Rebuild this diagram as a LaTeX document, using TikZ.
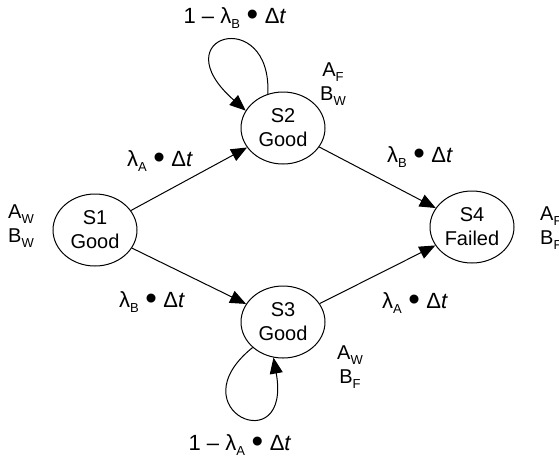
\documentclass[tikz,border=0pt]{standalone}
\usepackage{fontspec}
\setmainfont{Liberation Sans}
\usetikzlibrary{arrows.meta,shapes.geometric}
\newcommand\lsub[1]{\raisebox{-0.45ex}{\fontsize{13}{13}\selectfont #1}}
\newcommand\bigbul{\raisebox{-0.22ex}{\scalebox{1.5}{•}}}
\newcommand\lbl[1]{λ\lsub{#1}\hspace{0.3em}\bigbul\hspace{0.3em}Δ\textit{t}}
\begin{document}
\begin{tikzpicture}[x=1pt,y=-1pt,
  every node/.style={font=\fontsize{20}{24}\selectfont},
  state/.style={draw,ellipse,line width=1pt,minimum width=84pt,minimum height=72pt,inner sep=0pt,align=center},
  tag/.style={align=center,inner sep=0pt},
  elabel/.style={inner sep=0pt,font=\fontsize{22}{24}\selectfont},
  arr/.style={line width=1pt,-{Triangle[length=16pt,width=13pt]}}]
\useasboundingbox (0,0) rectangle (559,459);
\node[state] (s1) at (95,230) {S1\\Good};
\node[state] (s2) at (283,128) {S2\\Good};
\node[state] (s3) at (283,322) {S3\\Good};
\node[state] (s4) at (472,227) {S4\\Failed};
\node[tag] (t1) at (21,226) {A\lsub{W}\\B\lsub{W}};
\node[tag] (t2) at (333,84) {A\lsub{F}\\B\lsub{W}};
\node[tag] (t3) at (350,367) {A\lsub{W}\\B\lsub{F}};
\node[tag,anchor=west] (t4) at (540,228) {A\lsub{F}\\B\lsub{F}};
\draw[arr] (s1) -- (s2);
\draw[arr] (s1) -- (s3);
\draw[arr] (s2) -- (s4);
\draw[arr] (s3) -- (s4);
\draw[arr] (s2.114) .. controls (272,5) and (160,35) .. (s2.155);
\draw[arr] (s3.220) .. controls (175,410) and (292,462) .. (s3.255);
\node[elabel] (l12) at (160,161) {\lbl{A}};
\node[elabel] (l13) at (152,302) {\lbl{B}};
\node[elabel] (l24) at (420,157) {\lbl{B}};
\node[elabel] (l34) at (415,303) {\lbl{A}};
\node[elabel] (lp2) at (235,18) {1 – \lbl{B}};
\node[elabel] (lp3) at (240,445) {1 – \lbl{A}};
\end{tikzpicture}
\end{document}
